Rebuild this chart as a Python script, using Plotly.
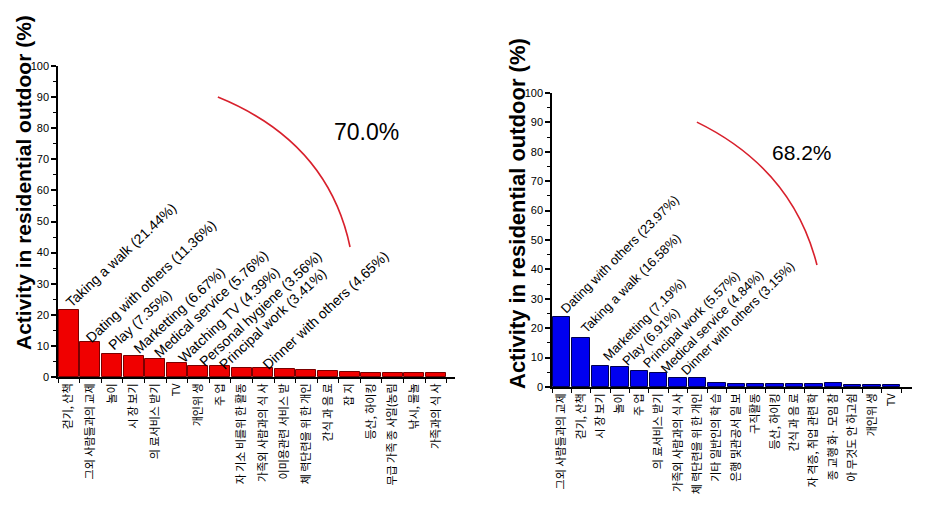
import plotly.graph_objects as go

# ---------------- data ----------------
left_labels = ["걷기, 산책", "그외 사람들과의 교제", "놀이", "시 장 보기", "의 료서비스 받기", "TV",
               "개인위 생", "주 업", "자 기소 비를위 한 활동", "가족외 사람과의 식 사",
               "이미용관련 서비스 받", "체 력단련을 위 한 개인", "간식 과 음 료", "잡 지",
               "등산, 하이킹", "무급 가족 종 사일(농림", "낚시, 물놀", "가족과의 식 사"]
left_values = [21.44, 11.36, 7.35, 6.67, 5.76, 4.39, 3.56, 3.41, 3.0, 2.75,
               2.7, 2.4, 2.0, 1.6, 1.25, 1.25, 1.25, 1.25]
left_notes = ["Taking a walk (21.44%)", "Dating with others (11.36%)", "Play (7.35%)",
              "Marketting (6.67%)", "Medical service (5.76%)", "Watching TV (4.39%)",
              "Personal hygiene (3.56%)", "Principal work (3.41%)", "Dinner with others (4.65%)"]
left_total = "70.0%"

right_labels = ["그외 사람들과의 교제", "걷기, 산책", "시 장 보기", "놀이", "주 업", "의 료서비스 받기",
                "가족외 사람과의 식 사", "체 력단련을 위 한 개인", "기타 일반인의 학 습",
                "은행 및관공서 일 보", "구직활동", "등산, 하이킹", "간식 과 음 료",
                "자 격증, 취업 관련 학", "종 교행 화· 모임 참", "아 무것도 안 하고쉼",
                "개인위 생", "TV"]
right_values = [23.97, 16.58, 7.19, 6.91, 5.57, 4.84, 3.15, 2.9, 1.4, 1.0,
                1.0, 1.0, 1.0, 1.0, 1.2, 0.85, 0.85, 0.8]
right_notes = ["Dating with others (23.97%)", "Taking a walk (16.58%)", "Marketting (7.19%)",
               "Play (6.91%)", "Principal work (5.57%)", "Medical service (4.84%)",
               "Dinner with others (3.15%)"]
right_total = "68.2%"

yticks = [0, 10, 20, 30, 40, 50, 60, 70, 80, 90, 100]

# ---------------- layout constants ----------------
W, H = 925, 515
def px(x):
    return x / W
def py(y):
    return 1 - y / H

left_note_pos = [(-0.41, 20.4), (0.52, 9.2), (1.54, 6.8), (2.74, 5.8), (3.67, 4.5),
                 (4.78, 2.6), (5.75, 1.4), (6.68, 0.4), (8.71, 0.4)]
right_note_pos = [(-0.35, 23.0), (0.69, 16.2), (1.82, 7.1), (2.85, 5.4), (3.88, 4.7),
                  (4.81, 2.7), (5.84, 2.0)]
left_arc = [(6.9, 90.0), (12.0, 75.6), (13.02, 41.8)]
right_arc = [(6.97, 90.1), (11.9, 74.2), (13.16, 41.5)]

fig = go.Figure()
fig.add_trace(go.Bar(x=list(range(len(left_values))), y=left_values, width=0.92,
                     marker=dict(color="#f00000", line=dict(color="#7a0000", width=1)),
                     xaxis="x", yaxis="y", showlegend=False, hoverinfo="skip"))
fig.add_trace(go.Bar(x=list(range(len(right_values))), y=right_values, width=0.9,
                     marker=dict(color="#0000f0", line=dict(color="#000050", width=1)),
                     xaxis="x2", yaxis="y2", showlegend=False, hoverinfo="skip"))

tickfont = dict(family="Arial", size=11, color="black")
catfont = dict(family="Noto Sans CJK KR", size=11, color="black")

def xaxis_cfg(labels, d0, d1, rmax, anchor):
    n = len(labels)
    return dict(domain=[d0, d1], range=[-0.5, rmax], anchor=anchor,
                tickmode="array", tickvals=list(range(n)),
                ticktext=labels, ticks="", tickangle=-90, tickfont=catfont,
                showline=True, linecolor="black", linewidth=2, showgrid=False,
                zeroline=False, automargin=False,
                minor=dict(tickmode="array", tickvals=[i - 0.5 for i in range(n + 1)],
                           ticks="outside", ticklen=4, tickcolor="black", tickwidth=1))

def yaxis_cfg(d0, d1, anchor):
    return dict(domain=[d0, d1], range=[0, 100], anchor=anchor,
                tickmode="array", tickvals=yticks, ticks="outside", ticklen=5,
                tickwidth=1.5, tickcolor="black", tickfont=tickfont,
                showline=True, linecolor="black", linewidth=1.5, showgrid=False,
                zeroline=False, automargin=False,
                minor=dict(dtick=5, ticks="outside", ticklen=3, tickcolor="black",
                           tickwidth=1.2))

fig.update_layout(
    width=W, height=H, margin=dict(l=0, r=0, t=0, b=0),
    paper_bgcolor="white", plot_bgcolor="white", bargap=0,
    xaxis=xaxis_cfg(left_labels, px(58), px(455), 17.88, "y"),
    xaxis2=xaxis_cfg(right_labels, px(552), px(912), 18.06, "y2"),
    yaxis=yaxis_cfg(py(377), py(66), "x"),
    yaxis2=yaxis_cfg(py(387), py(93), "x2"),
)

ann = []
# axis titles
ann.append(dict(text="<b>Activity in residential outdoor (%)</b>", xref="paper", yref="paper",
                x=px(23), y=py(183), xanchor="center", yanchor="middle",
                textangle=-90, showarrow=False,
                font=dict(family="Arial", size=21, color="black")))
ann.append(dict(text="<b>Activity in residential outdoor (%)</b>", xref="paper", yref="paper",
                x=px(518), y=py(214), xanchor="center", yanchor="middle",
                textangle=-90, showarrow=False,
                font=dict(family="Arial", size=22, color="black")))
for t, (x, y) in zip(left_notes, left_note_pos):
    ann.append(dict(text=t, x=x, y=y, xref="x", yref="y", xanchor="left", yanchor="bottom",
                    textangle=-43, showarrow=False,
                    font=dict(family="Arial", size=14, color="black")))
for t, (x, y) in zip(right_notes, right_note_pos):
    ann.append(dict(text=t, x=x, y=y, xref="x2", yref="y2", xanchor="left", yanchor="bottom",
                    textangle=-45, showarrow=False,
                    font=dict(family="Arial", size=13, color="black")))
ann.append(dict(text=left_total, x=13.8, y=78.8, xref="x", yref="y", showarrow=False,
                xanchor="center", yanchor="middle",
                font=dict(family="Arial", size=23, color="black")))
ann.append(dict(text=right_total, x=12.39, y=79.9, xref="x2", yref="y2", showarrow=False,
                xanchor="center", yanchor="middle",
                font=dict(family="Arial", size=21, color="black")))
fig.update_layout(annotations=ann)

def arc_path(pts):
    (x0, y0), (cx, cy), (x1, y1) = pts
    return f"M {x0},{y0} Q {cx},{cy} {x1},{y1}"

fig.add_shape(type="path", path=arc_path(left_arc), xref="x", yref="y",
              line=dict(color="#d8202c", width=1.6))
fig.add_shape(type="path", path=arc_path(right_arc), xref="x2", yref="y2",
              line=dict(color="#d8202c", width=1.6))

fig.write_html("out.html")
